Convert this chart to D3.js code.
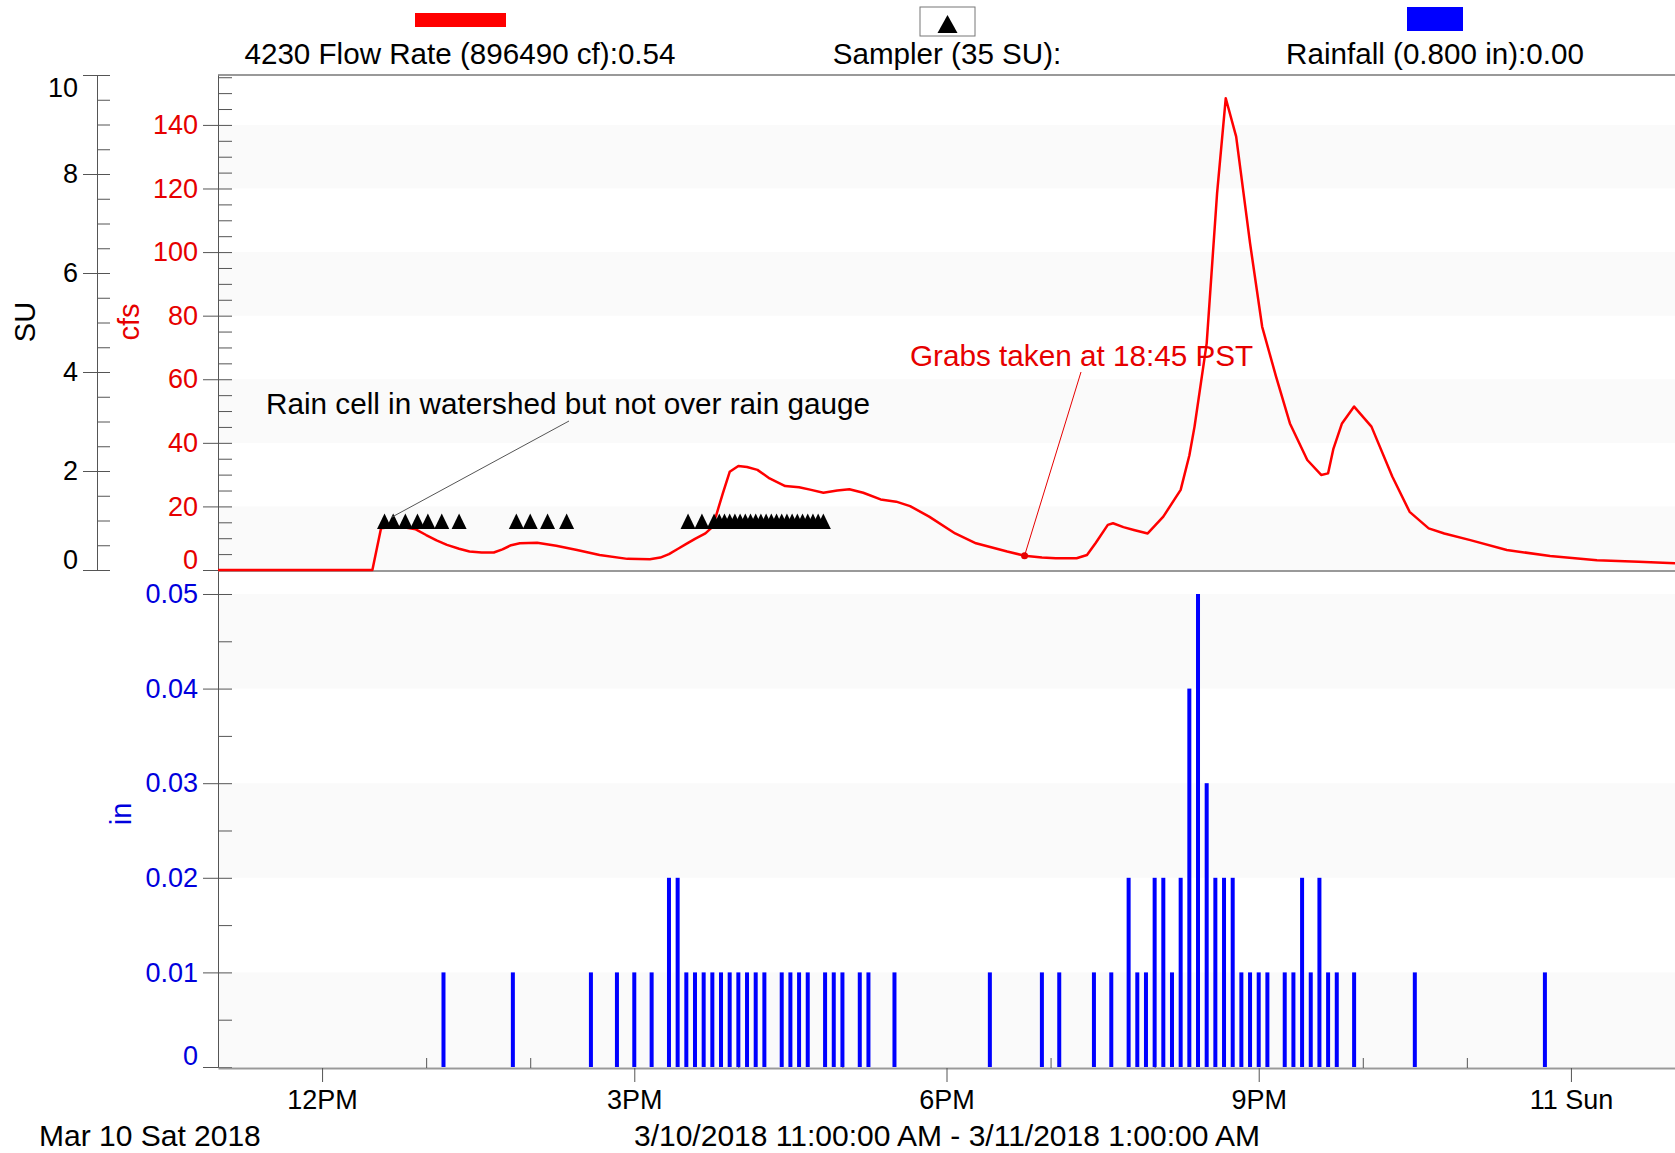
<!DOCTYPE html>
<html>
<head>
<meta charset="utf-8">
<script src="https://d3js.org/d3.v7.min.js"></script>
<style>
body { margin: 0; background: white; }
text { font-family: "Liberation Sans", Arial, sans-serif; }
</style>
</head>
<body>
<svg id="chart" width="1675" height="1153"></svg>
<script>

// all times are minutes after 11:00 AM, Mar 10 2018
var flowMinutes = [0, 89, 94, 101, 108, 114, 120, 126, 132, 139, 145, 152, 159, 164, 169, 174, 184, 195, 207, 220,
  236, 249, 255, 260, 265, 270, 275, 281, 284, 287, 291, 295, 300, 305, 311, 318, 327, 335, 342, 349,
  357, 364, 372, 382, 391, 399, 410, 425, 437, 455, 465, 475, 483, 495, 501, 506, 513, 516, 522, 528,
  536, 545, 555, 560, 563, 570, 576, 581, 587, 595, 602, 610, 618, 628, 636, 640, 643, 648, 655, 665,
  677, 687, 698, 707, 722, 743, 768, 795, 819, 840];
var flowCfs = [0, 0, 13.1, 13.6, 13.4, 12.8, 11.0, 9.3, 7.9, 6.7, 5.8, 5.5, 5.5, 6.5, 7.8, 8.4, 8.6, 7.6, 6.3, 4.7,
  3.5, 3.4, 3.9, 5.0, 6.6, 8.2, 9.8, 11.5, 13.0, 16.8, 24.0, 30.9, 32.7, 32.4, 31.5, 28.8, 26.4, 26.0, 25.2, 24.3,
  25.0, 25.4, 24.3, 22.2, 21.5, 20.1, 16.8, 11.5, 8.4, 5.8, 4.5, 3.9, 3.7, 3.7, 4.7, 8.5, 14.2, 14.7, 13.5, 12.6,
  11.5, 16.8, 25.2, 36.0, 45.1, 71.3, 118.5, 148.4, 136.3, 102.8, 76.5, 60.8, 46.1, 34.6, 29.9, 30.4, 38.0, 46.1, 51.4, 45.1,
  29.4, 18.3, 13.1, 11.5, 9.4, 6.3, 4.4, 3.1, 2.6, 2.1];

var samplerMinutes = [96, 101, 108, 115, 121, 129, 139,
  172, 180, 190, 201,
  271, 279, 286, 289, 292, 295, 298, 301, 304, 307, 310, 313, 316, 319, 322, 325, 328, 331, 334, 337, 340, 343, 346, 349];
var samplerSU = 1;

var rainMinutes = [130, 170, 215, 230, 240, 250, 260, 265, 270, 275, 280, 285, 290, 295, 300, 305, 310, 315, 325, 330,
  335, 340, 350, 355, 360, 370, 375, 390, 445,
  475, 485, 505, 515, 525, 530, 535, 540, 545, 550, 555, 560, 565, 570, 575, 580, 585, 590, 595, 600,
  605, 615, 620, 625, 630, 635, 640, 645, 655, 690, 765];
var rainInches = [0.01, 0.01, 0.01, 0.01, 0.01, 0.01, 0.02, 0.02, 0.01, 0.01, 0.01, 0.01, 0.01, 0.01, 0.01, 0.01, 0.01, 0.01, 0.01, 0.01,
  0.01, 0.01, 0.01, 0.01, 0.01, 0.01, 0.01, 0.01, 0.01,
  0.01, 0.01, 0.01, 0.01, 0.02, 0.01, 0.01, 0.02, 0.02, 0.01, 0.02, 0.04, 0.05, 0.03, 0.02, 0.02, 0.02, 0.01, 0.01, 0.01,
  0.01, 0.01, 0.01, 0.02, 0.01, 0.02, 0.01, 0.01, 0.01, 0.01, 0.01];

var grabMinute = 465;
var grabCfs = 4.5;

var majorHours = [12, 15, 18, 21, 24];
var timeTickLabels = ["12PM", "3PM", "6PM", "9PM", "11 Sun"];
var minorHours = [13, 14, 16, 17, 19, 20, 22, 23];
var suTicks = [0, 2, 4, 6, 8, 10];
var cfsTicks = [0, 20, 40, 60, 80, 100, 120, 140];
var inTicks = [0, 0.01, 0.02, 0.03, 0.04, 0.05];

var start = new Date(2018, 2, 10, 11, 0);
var toDate = function(m) {
  return new Date(start.getTime() + m * 60000);
};

var svg = d3.select("#chart");

var x = d3.scaleTime().domain([start, toDate(840)]).range([218, 1675]);
var ySU = d3.scaleLinear().domain([0, 10]).range([570, 75]);
var yCfs = d3.scaleLinear().domain([0, 155.7]).range([570, 75]);
var yIn = d3.scaleLinear().domain([0, 0.05243]).range([1067, 571]);

// very faint background bands
[[0, 20], [40, 60], [80, 100], [120, 140]].forEach(function(b) {
  svg.append("rect").attr("x", 219).attr("width", 1456)
    .attr("y", yCfs(b[1])).attr("height", yCfs(b[0]) - yCfs(b[1]))
    .attr("fill", "#fafafa");
});
[[0, 0.01], [0.02, 0.03], [0.04, 0.05]].forEach(function(b) {
  svg.append("rect").attr("x", 219).attr("width", 1456)
    .attr("y", yIn(b[1])).attr("height", yIn(b[0]) - yIn(b[1]))
    .attr("fill", "#fafafa");
});

// frame lines
svg.append("line").attr("x1", 218).attr("x2", 1675).attr("y1", 75).attr("y2", 75)
  .style("stroke", "#999").style("stroke-width", 2);
svg.append("line").attr("x1", 218).attr("x2", 1675).attr("y1", 571).attr("y2", 571)
  .style("stroke", "#999").style("stroke-width", 2);

// y axes: majors to the left with labels, minors to the right
var yAxis = function(scale, xPos, major, minor, color, fmt, outer, size) {
  svg.append("g").attr("transform", "translate(" + xPos + ",0)")
    .call(d3.axisRight(scale).tickValues(minor).tickSize(size).tickSizeOuter(0).tickFormat(""))
    .call(function(g) {
      g.select(".domain").style("stroke", "#555");
      g.selectAll(".tick line").style("stroke", "#555");
    });
  var g = svg.append("g").attr("transform", "translate(" + xPos + ",0)")
    .call(d3.axisLeft(scale).tickValues(major).tickSize(outer).tickSizeOuter(0).tickPadding(5).tickFormat(fmt));
  g.select(".domain").remove();
  g.selectAll(".tick line").style("stroke", "#555");
  g.selectAll(".tick text").style("font-size", "27px").style("fill", color)
    .style("font-family", "'Liberation Sans', Arial, sans-serif");
  return g;
};

var suMinor = [];
for (var i = 0; i <= 20; i++) suMinor.push(i * 0.5);
var cfsMinor = [];
for (var j = 0; j <= 31; j++) cfsMinor.push(j * 5);
var inMinor = [];
for (var k = 0; k <= 10; k++) inMinor.push(k * 0.005);

var suAxis = yAxis(ySU, 97, suTicks, suMinor, "#000", d3.format("d"), 14, 13);
suAxis.selectAll(".tick text").attr("dy", function(d) {
  return d === 10 ? "0.78em" : (d === 0 ? "-0.05em" : "0.32em");
});
var cfsAxis = yAxis(yCfs, 218, cfsTicks, cfsMinor, "#e60000", d3.format("d"), 15, 14);
cfsAxis.selectAll(".tick text").attr("dy", function(d) {
  return d === 0 ? "-0.05em" : "0.32em";
});
var inAxis = yAxis(yIn, 218, inTicks, inMinor, "#0000dd", function(d) {
  return d === 0 ? "0" : d3.format(".2f")(d);
}, 15, 14);
inAxis.selectAll(".tick text").attr("dy", function(d) {
  return d === 0 ? "-0.1em" : "0.32em";
});

// axis titles
svg.append("text").attr("transform", "translate(25,322) rotate(-90)")
  .attr("text-anchor", "middle").attr("dominant-baseline", "central")
  .style("font-size", "29px").text("SU");
svg.append("text").attr("transform", "translate(129,322) rotate(-90)")
  .attr("text-anchor", "middle").attr("dominant-baseline", "central")
  .style("font-size", "29px").style("fill", "#e60000").text("cfs");
svg.append("text").attr("transform", "translate(121,814) rotate(-90)")
  .attr("text-anchor", "middle").attr("dominant-baseline", "central")
  .style("font-size", "29px").style("fill", "#0000dd").text("in");

// x axis
var xMajor = svg.append("g").attr("transform", "translate(0,1068)")
  .call(d3.axisBottom(x)
    .tickValues(majorHours.map(function(h) { return toDate((h - 11) * 60); }))
    .tickSize(14).tickSizeOuter(0).tickPadding(8)
    .tickFormat(function(d, i) { return timeTickLabels[i]; }));
xMajor.select(".domain").style("stroke", "#999").style("stroke-width", 2);
xMajor.selectAll(".tick line").style("stroke", "#555");
xMajor.selectAll(".tick text").style("font-size", "27px").style("fill", "#000")
  .style("font-family", "'Liberation Sans', Arial, sans-serif");

var xMinor = svg.append("g").attr("transform", "translate(0,1068)")
  .call(d3.axisTop(x)
    .tickValues(minorHours.map(function(h) { return toDate((h - 11) * 60); }))
    .tickSize(10).tickSizeOuter(0).tickFormat(""));
xMinor.select(".domain").remove();
xMinor.selectAll(".tick line").style("stroke", "#555");

svg.append("text").attr("x", 39).attr("y", 1146).style("font-size", "30px")
  .text("Mar 10 Sat 2018");
svg.append("text").attr("x", 947).attr("y", 1146).attr("text-anchor", "middle")
  .style("font-size", "30px").text("3/10/2018 11:00:00 AM - 3/11/2018 1:00:00 AM");

// rainfall bars
var rain = rainMinutes.map(function(m, i) { return {t: toDate(m), v: rainInches[i]}; });
svg.append("g").selectAll("rect").data(rain).enter().append("rect")
  .attr("x", function(d) { return x(d.t) - 2; })
  .attr("width", 4)
  .attr("y", function(d) { return yIn(d.v); })
  .attr("height", function(d) { return yIn(0) - yIn(d.v); })
  .attr("fill", "#0000ff");

// flow line
var flow = flowMinutes.map(function(m, i) { return {t: toDate(m), v: flowCfs[i]}; });
svg.append("path").datum(flow)
  .attr("d", d3.line().x(function(d) { return x(d.t); }).y(function(d) { return yCfs(d.v); }))
  .attr("fill", "none").style("stroke", "#ff0000").style("stroke-width", 2.5)
  .style("stroke-linejoin", "round");

// sampler triangles
svg.append("g").selectAll("path").data(samplerMinutes).enter().append("path")
  .attr("transform", function(m) { return "translate(" + x(toDate(m)) + "," + (ySU(samplerSU) + 1) + ")"; })
  .attr("d", "M-7.5,7.5L7.5,7.5L0,-8Z")
  .attr("fill", "#000");

// annotations
var gx = x(toDate(grabMinute)), gy = yCfs(grabCfs);
svg.append("line").attr("x1", 1081).attr("y1", 372).attr("x2", gx).attr("y2", gy)
  .style("stroke", "#e60000").style("stroke-width", 1);
svg.append("circle").attr("cx", gx).attr("cy", gy).attr("r", 3.5).attr("fill", "#e60000");
svg.append("text").attr("x", 910).attr("y", 366).style("font-size", "29.7px")
  .style("fill", "#e60000").text("Grabs taken at 18:45 PST");

svg.append("line").attr("x1", 569).attr("y1", 421)
  .attr("x2", x(toDate(samplerMinutes[1])) - 2).attr("y2", ySU(samplerSU) - 3)
  .style("stroke", "#555").style("stroke-width", 1);
svg.append("text").attr("x", 266).attr("y", 414).style("font-size", "29.7px")
  .text("Rain cell in watershed but not over rain gauge");

// legend
svg.append("rect").attr("x", 415).attr("y", 13).attr("width", 91).attr("height", 14).attr("fill", "#ff0000");
svg.append("text").attr("x", 460).attr("y", 64).attr("text-anchor", "middle").style("font-size", "29.6px")
  .text("4230 Flow Rate (896490 cf):0.54");

svg.append("rect").attr("x", 920).attr("y", 7).attr("width", 55).attr("height", 29)
  .attr("fill", "white").style("stroke", "#777").style("stroke-width", 1);
svg.append("path").attr("transform", "translate(947.5,24)").attr("d", "M-10,9L10,9L0,-9Z").attr("fill", "#000");
svg.append("text").attr("x", 947).attr("y", 64).attr("text-anchor", "middle").style("font-size", "29.6px")
  .text("Sampler (35 SU):");

svg.append("rect").attr("x", 1407).attr("y", 7).attr("width", 56).attr("height", 24).attr("fill", "#0000ff");
svg.append("text").attr("x", 1435).attr("y", 64).attr("text-anchor", "middle").style("font-size", "29.6px")
  .text("Rainfall (0.800 in):0.00");

</script>
</body>
</html>
